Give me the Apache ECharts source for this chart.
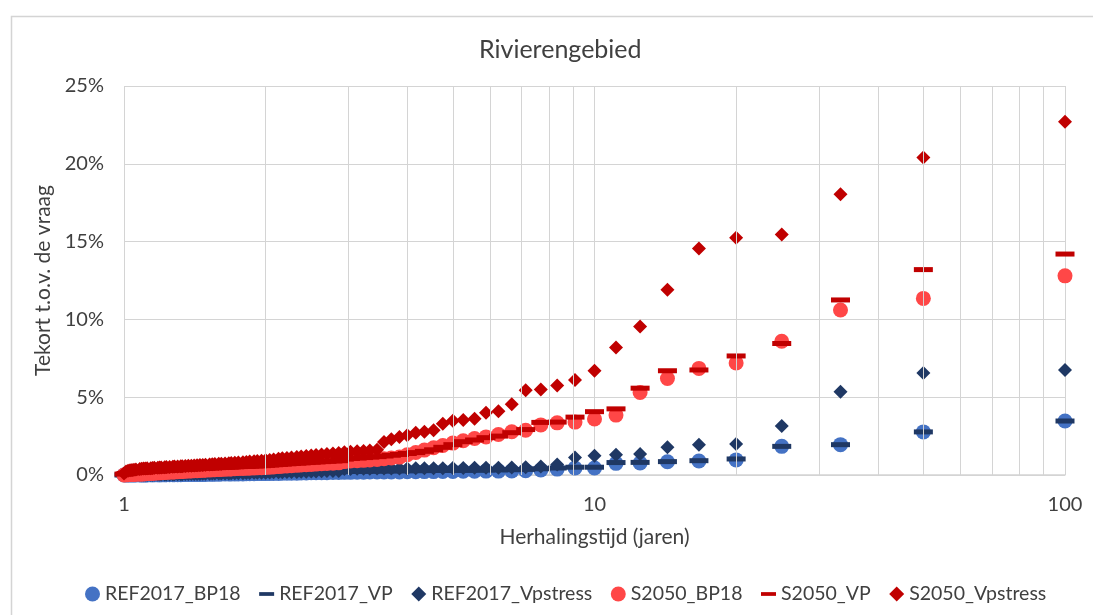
<!DOCTYPE html>
<html>
<head>
<meta charset="utf-8">
<script src="https://cdn.jsdelivr.net/npm/echarts@6/dist/echarts.min.js"></script>
<style>
html,body{margin:0;padding:0;background:#fff;}
#chart{width:1093px;height:615px;}
</style>
</head>
<body>
<div id="chart"></div>
<script>
// Return period (years), rank 1..100
var returnPeriods = [
  100, 50, 33.33, 25, 20, 16.67, 14.29, 12.5, 11.11, 10,
  9.09, 8.33, 7.69, 7.14, 6.67, 6.25, 5.88, 5.56, 5.26, 5,
  4.76, 4.55, 4.35, 4.17, 4, 3.85, 3.7, 3.57, 3.45, 3.33,
  3.23, 3.13, 3.03, 2.94, 2.86, 2.78, 2.7, 2.63, 2.56, 2.5,
  2.44, 2.38, 2.33, 2.27, 2.22, 2.17, 2.13, 2.08, 2.04, 2,
  1.96, 1.92, 1.89, 1.85, 1.82, 1.79, 1.75, 1.72, 1.69, 1.67,
  1.64, 1.61, 1.59, 1.56, 1.54, 1.52, 1.49, 1.47, 1.45, 1.43,
  1.41, 1.39, 1.37, 1.35, 1.33, 1.32, 1.3, 1.28, 1.27, 1.25,
  1.23, 1.22, 1.2, 1.19, 1.18, 1.16, 1.15, 1.14, 1.12, 1.11,
  1.1, 1.09, 1.08, 1.06, 1.05, 1.04, 1.03, 1.02, 1.01, 1
];

// Shortfall relative to demand (%)
var REF2017_BP18 = [
  3.47, 2.77, 1.95, 1.84, 0.97, 0.9, 0.85, 0.77, 0.75, 0.45,
  0.45, 0.38, 0.32, 0.28, 0.26, 0.25, 0.25, 0.24, 0.24, 0.23,
  0.23, 0.22, 0.22, 0.21, 0.21, 0.2, 0.2, 0.2, 0.19, 0.19,
  0.18, 0.18, 0.17, 0.17, 0.16, 0.16, 0.15, 0.15, 0.14, 0.14,
  0.13, 0.13, 0.12, 0.12, 0.11, 0.11, 0.1, 0.1, 0.1, 0.09,
  0.09, 0.09, 0.08, 0.08, 0.08, 0.07, 0.07, 0.07, 0.06, 0.06,
  0.06, 0.06, 0.05, 0.05, 0.05, 0.05, 0.04, 0.04, 0.04, 0.04,
  0.03, 0.03, 0.03, 0.03, 0.03, 0.02, 0.02, 0.02, 0.02, 0.02,
  0.02, 0.01, 0.01, 0.01, 0.01, 0.01, 0.01, 0.01, 0, 0,
  0, 0, 0, 0, 0, 0, 0, 0, 0, 0
];
var REF2017_VP = [
  3.47, 2.77, 1.95, 1.84, 1.03, 0.92, 0.86, 0.81, 0.8, 0.5,
  0.5, 0.45, 0.4, 0.36, 0.34, 0.33, 0.32, 0.31, 0.3, 0.3,
  0.29, 0.29, 0.28, 0.28, 0.27, 0.27, 0.26, 0.26, 0.25, 0.25,
  0.24, 0.24, 0.23, 0.23, 0.21, 0.2, 0.2, 0.19, 0.19, 0.18,
  0.18, 0.17, 0.17, 0.16, 0.16, 0.15, 0.15, 0.14, 0.14, 0.13,
  0.13, 0.12, 0.12, 0.12, 0.11, 0.11, 0.1, 0.1, 0.1, 0.09,
  0.09, 0.09, 0.08, 0.08, 0.08, 0.07, 0.07, 0.07, 0.06, 0.06,
  0.06, 0.06, 0.05, 0.05, 0.05, 0.05, 0.04, 0.04, 0.04, 0.04,
  0.03, 0.03, 0.03, 0.03, 0.03, 0.02, 0.02, 0.02, 0.02, 0.02,
  0.01, 0.01, 0.01, 0.01, 0.01, 0.01, 0, 0, 0, 0
];
var REF2017_Vpstress = [
  6.75, 6.55, 5.35, 3.15, 2.0, 1.95, 1.78, 1.35, 1.3, 1.24,
  1.12, 0.68, 0.55, 0.5, 0.48, 0.47, 0.46, 0.46, 0.45, 0.45,
  0.44, 0.44, 0.43, 0.43, 0.42, 0.42, 0.42, 0.41, 0.41, 0.4,
  0.4, 0.4, 0.39, 0.39, 0.26, 0.25, 0.25, 0.24, 0.23, 0.22,
  0.21, 0.21, 0.2, 0.19, 0.19, 0.18, 0.17, 0.17, 0.16, 0.15,
  0.15, 0.14, 0.14, 0.13, 0.13, 0.12, 0.12, 0.11, 0.11, 0.1,
  0.1, 0.1, 0.09, 0.09, 0.09, 0.08, 0.08, 0.08, 0.07, 0.07,
  0.07, 0.06, 0.06, 0.06, 0.05, 0.05, 0.05, 0.05, 0.04, 0.04,
  0.04, 0.04, 0.03, 0.03, 0.03, 0.03, 0.02, 0.02, 0.02, 0.02,
  0.02, 0.01, 0.01, 0.01, 0.01, 0.01, 0, 0, 0, 0
];
var S2050_BP18 = [
  12.8, 11.35, 10.6, 8.6, 7.2, 6.85, 6.2, 5.3, 3.85, 3.6,
  3.4, 3.35, 3.22, 2.88, 2.78, 2.6, 2.45, 2.35, 2.2, 2.05,
  1.9, 1.75, 1.6, 1.45, 1.3, 1.15, 1.1, 1.05, 1.0, 0.97,
  0.94, 0.92, 0.9, 0.86, 0.78, 0.76, 0.74, 0.72, 0.7, 0.68,
  0.66, 0.64, 0.62, 0.6, 0.58, 0.56, 0.54, 0.52, 0.5, 0.48,
  0.47, 0.46, 0.45, 0.44, 0.43, 0.42, 0.41, 0.4, 0.39, 0.38,
  0.37, 0.36, 0.35, 0.34, 0.33, 0.32, 0.31, 0.3, 0.29, 0.28,
  0.27, 0.26, 0.25, 0.24, 0.23, 0.22, 0.21, 0.2, 0.19, 0.18,
  0.17, 0.16, 0.15, 0.14, 0.13, 0.12, 0.11, 0.1, 0.09, 0.08,
  0.07, 0.06, 0.05, 0.05, 0.04, 0.03, 0.03, 0.02, 0.01, 0
];
var S2050_VP = [
  14.2, 13.2, 11.25, 8.45, 7.65, 6.75, 6.7, 5.58, 4.25, 4.07,
  3.72, 3.4, 3.38, 2.92, 2.72, 2.5, 2.4, 2.25, 2.14, 1.95,
  1.78, 1.62, 1.52, 1.44, 1.38, 1.32, 1.27, 1.22, 1.18, 1.15,
  1.12, 1.09, 1.06, 1.02, 0.92, 0.9, 0.88, 0.86, 0.84, 0.82,
  0.8, 0.78, 0.76, 0.74, 0.72, 0.7, 0.68, 0.66, 0.64, 0.62,
  0.6, 0.59, 0.58, 0.57, 0.56, 0.55, 0.54, 0.53, 0.52, 0.51,
  0.5, 0.49, 0.48, 0.47, 0.46, 0.45, 0.44, 0.43, 0.42, 0.41,
  0.4, 0.39, 0.38, 0.37, 0.36, 0.35, 0.34, 0.33, 0.32, 0.31,
  0.3, 0.29, 0.28, 0.27, 0.26, 0.25, 0.24, 0.23, 0.22, 0.21,
  0.2, 0.19, 0.18, 0.17, 0.16, 0.15, 0.14, 0.12, 0.1, 0.06
];
var S2050_Vpstress = [
  22.7, 20.4, 18.05, 15.45, 15.25, 14.55, 11.9, 9.55, 8.2, 6.7,
  6.1, 5.75, 5.5, 5.45, 4.55, 4.1, 4.0, 3.62, 3.53, 3.49,
  3.3, 2.87, 2.78, 2.72, 2.55, 2.45, 2.3, 2.12, 1.62, 1.58,
  1.55, 1.52, 1.5, 1.47, 1.42, 1.38, 1.35, 1.32, 1.28, 1.25,
  1.22, 1.19, 1.16, 1.13, 1.1, 1.07, 1.04, 1.0, 0.97, 0.94,
  0.92, 0.9, 0.88, 0.86, 0.84, 0.82, 0.8, 0.79, 0.77, 0.76,
  0.74, 0.73, 0.72, 0.7, 0.69, 0.68, 0.66, 0.65, 0.64, 0.62,
  0.61, 0.6, 0.59, 0.58, 0.57, 0.56, 0.55, 0.54, 0.53, 0.52,
  0.51, 0.5, 0.49, 0.48, 0.47, 0.46, 0.45, 0.44, 0.43, 0.42,
  0.41, 0.4, 0.38, 0.36, 0.34, 0.32, 0.3, 0.27, 0.22, 0.1
];

var seriesNames = ['REF2017_BP18', 'REF2017_VP', 'REF2017_Vpstress', 'S2050_BP18', 'S2050_VP', 'S2050_Vpstress'];
var yTicks = [0, 5, 10, 15, 20, 25];
var minorGridYears = [2, 3, 4, 5, 6, 7, 8, 9, 20, 30, 40, 50, 60, 70, 80, 90];

var FONT = 'Lato, "Open Sans", "Noto Sans", sans-serif';
var TXT = '#404040';
var GRID = '#D4D4D4';

function pairs(vals) {
  return returnPeriods.map(function (t, i) { return [t, vals[i]]; });
}

var dashPath = 'path://M0,0 L20,0 L20,5 L0,5 Z';

var styles = [
  { data: REF2017_BP18, symbol: 'circle', size: 15, color: '#4472C4', icon: 'circle' },
  { data: REF2017_VP, symbol: 'rect', size: [19, 5], color: '#1F3864', icon: dashPath },
  { data: REF2017_Vpstress, symbol: 'diamond', size: 14, color: '#1F3864', icon: 'diamond' },
  { data: S2050_BP18, symbol: 'circle', size: 15, color: '#FF4747', icon: 'circle' },
  { data: S2050_VP, symbol: 'rect', size: [19, 5], color: '#C00000', icon: dashPath },
  { data: S2050_Vpstress, symbol: 'diamond', size: 14, color: '#C00000', icon: 'diamond' }
];

var series = [{
  name: '_grid',
  type: 'scatter',
  data: [],
  silent: true,
  z: 1,
  markLine: {
    silent: true,
    symbol: ['none', 'none'],
    label: { show: false },
    lineStyle: { type: 'solid', color: GRID, width: 1 },
    emphasis: { disabled: true },
    animation: false,
    data: minorGridYears.map(function (v) { return { xAxis: v }; })
  }
}];
styles.forEach(function (s, i) {
  series.push({
    name: seriesNames[i],
    type: 'scatter',
    z: 3,
    symbol: s.symbol,
    symbolSize: s.size,
    itemStyle: { color: s.color, opacity: 1 },
    data: pairs(s.data)
  });
});

var chart = echarts.init(document.getElementById('chart'), null, { renderer: 'canvas' });
chart.setOption({
  animation: false,
  backgroundColor: '#fff',
  graphic: [{
    type: 'rect',
    left: 9, top: 14,
    shape: { width: 1200, height: 700 },
    style: { fill: 'none', stroke: GRID, lineWidth: 1.5 },
    silent: true, z: -1
  }],
  title: {
    text: 'Rivierengebied',
    left: 474,
    top: 32,
    textStyle: { fontFamily: FONT, fontSize: 25, fontWeight: 'normal', color: TXT }
  },
  legend: {
    bottom: 6,
    left: 80,
    itemWidth: 15,
    itemHeight: 15,
    itemGap: 18.5,
    symbolKeepAspect: true,
    textStyle: { fontFamily: FONT, fontSize: 19.5, color: TXT },
    data: seriesNames.map(function (n, i) { return { name: n, icon: styles[i].icon }; })
  },
  grid: { left: 124, right: 28, top: 86, bottom: 140, containLabel: false },
  xAxis: {
    type: 'log',
    logBase: 10,
    min: 1,
    max: 100,
    name: 'Herhalingstijd (jaren)',
    nameLocation: 'middle',
    nameGap: 52,
    nameTextStyle: { fontFamily: FONT, fontSize: 21, color: TXT },
    axisLine: { show: true, lineStyle: { color: GRID, width: 1.5 } },
    axisTick: { show: false },
    axisLabel: { fontFamily: FONT, fontSize: 20, color: TXT, margin: 20 },
    splitLine: { show: true, lineStyle: { color: GRID, width: 1 } }
  },
  yAxis: {
    type: 'value',
    min: 0,
    max: 25,
    interval: 5,
    name: 'Tekort t.o.v. de vraag',
    nameLocation: 'middle',
    nameGap: 63,
    nameTextStyle: { fontFamily: FONT, fontSize: 21, color: TXT },
    axisLine: { show: false },
    axisTick: { show: false },
    axisLabel: {
      fontFamily: FONT, fontSize: 20, color: TXT, margin: 20,
      formatter: function (v) { return yTicks.indexOf(v) >= 0 ? v + '%' : ''; }
    },
    splitLine: { show: true, lineStyle: { color: GRID, width: 1 } }
  },
  series: series
});
</script>
</body>
</html>
